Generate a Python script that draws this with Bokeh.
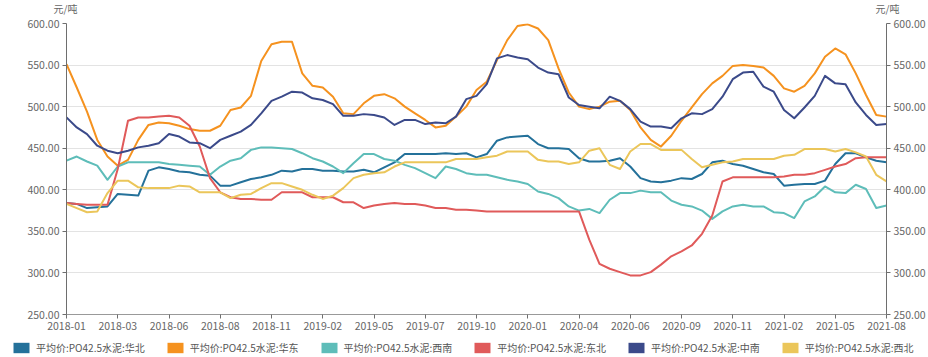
from bokeh.plotting import figure
from bokeh.layouts import column, row
from bokeh.models import (Range1d, LinearAxis, FixedTicker, PrintfTickFormatter,
                          Legend, LegendItem)
from bokeh.embed import file_html
from bokeh.resources import INLINE

# ---- data (5 samples per x-axis tick interval) ----
tick_labels = ["2018-01", "2018-03", "2018-06", "2018-08", "2018-11", "2019-02",
               "2019-05", "2019-07", "2019-10", "2020-01", "2020-04", "2020-06",
               "2020-09", "2020-11", "2021-02", "2021-05", "2021-08"]

series_names = ["平均价:PO42.5水泥:华北", "平均价:PO42.5水泥:华东", "平均价:PO42.5水泥:西南",
                "平均价:PO42.5水泥:东北", "平均价:PO42.5水泥:中南", "平均价:PO42.5水泥:西北"]

unit_label = "元/吨"

huabei = [384, 383, 378, 379, 380, 395, 394, 393, 423, 427, 425, 422, 421, 418, 417, 405, 405, 409, 413, 415, 418,
          423, 422, 425, 425, 423, 423, 422, 422, 424, 421, 427, 433, 443, 443, 443, 443, 444, 443, 444, 439,
          443, 459, 463, 464, 465, 455, 450, 450, 449, 438, 434, 434, 435, 438, 428, 414, 410, 409, 411, 414,
          413, 419, 433, 435, 431, 429, 425, 421, 419, 405, 406, 407, 407, 411, 431, 444, 444, 439, 435, 433]

huadong = [551, 523, 494, 460, 440, 429, 436, 460, 478, 481, 480, 477, 473, 471, 471, 477, 496, 499, 513, 555, 575,
           578, 578, 540, 525, 523, 512, 492, 491, 504, 513, 515, 510, 500, 492, 484, 475, 477, 488, 500, 520,
           530, 556, 580, 597, 599, 594, 580, 546, 517, 500, 497, 500, 506, 507, 496, 475, 460, 452, 465, 483,
           499, 515, 528, 537, 549, 550, 549, 547, 537, 522, 518, 525, 540, 560, 570, 563, 540, 514, 490, 488]

xinan = [435, 440, 434, 429, 412, 428, 433, 433, 433, 433, 431, 430, 429, 428, 418, 428, 435, 438, 448, 451, 451,
         450, 449, 444, 438, 434, 428, 420, 432, 443, 443, 437, 435, 430, 426, 420, 414, 428, 425, 420, 418,
         418, 415, 412, 410, 407, 398, 395, 390, 380, 375, 377, 372, 388, 396, 396, 399, 397, 397, 387, 382,
         380, 375, 365, 374, 380, 382, 380, 380, 373, 372, 366, 386, 392, 404, 397, 396, 406, 401, 378, 381]

dongbei = [384, 383, 382, 382, 382, 425, 483, 487, 487, 488, 489, 487, 477, 452, 414, 397, 391, 389, 389, 388, 388,
           397, 397, 397, 391, 391, 391, 385, 385, 378, 381, 383, 384, 383, 383, 381, 378, 378, 376, 376, 375,
           374, 374, 374, 374, 374, 374, 374, 374, 374, 374, 340, 311, 305, 301, 297, 297, 301, 310, 320, 326,
           333, 347, 369, 410, 415, 415, 415, 415, 415, 416, 418, 418, 420, 424, 428, 431, 438, 439, 439, 439]

zhongnan = [487, 475, 467, 453, 447, 444, 447, 451, 453, 456, 467, 464, 457, 456, 450, 460, 465, 470, 478, 492, 507,
            512, 518, 517, 510, 508, 503, 489, 489, 491, 490, 487, 478, 484, 484, 479, 481, 480, 488, 509, 513,
            527, 558, 562, 559, 557, 547, 541, 539, 511, 502, 500, 498, 512, 507, 497, 482, 476, 476, 474, 486,
            492, 491, 497, 512, 533, 541, 542, 524, 518, 496, 486, 499, 513, 537, 528, 527, 505, 490, 478, 479]

xibei = [383, 378, 373, 374, 396, 411, 411, 403, 402, 402, 402, 405, 404, 397, 397, 397, 390, 394, 395, 402, 408,
         408, 404, 400, 394, 389, 393, 402, 414, 418, 420, 421, 428, 433, 433, 433, 433, 433, 437, 437, 437,
         439, 441, 446, 446, 446, 436, 434, 434, 431, 433, 447, 450, 430, 425, 446, 455, 455, 448, 448, 448,
         437, 427, 430, 433, 434, 437, 437, 437, 437, 441, 442, 449, 449, 449, 446, 449, 445, 440, 418, 410]

colors = ["#24719a", "#f5921f", "#5ebdb9", "#e05a5a", "#3b4a8a", "#ebc65a"]
all_series = [huabei, huadong, xinan, dongbei, zhongnan, xibei]

y_ticks = [250, 300, 350, 400, 450, 500, 550, 600]

FONT = "Noto Sans CJK SC"
W = 928
n = len(huabei)
xs = list(range(n))
tick_pos = list(range(0, n, 5))

# ---- top strip: unit labels shown as single tick labels of hidden axes ----
top = figure(width=W, height=16, x_range=Range1d(0, 1), y_range=Range1d(0, 2),
             min_border=0, output_backend="svg", toolbar_location=None,
             x_axis_location=None, y_axis_location="left")
top.outline_line_color = None
top.xgrid.visible = False
top.ygrid.visible = False


def style_unit_axis(ax):
    ax.ticker = FixedTicker(ticks=[1])
    ax.major_label_overrides = {1: unit_label}
    ax.axis_line_color = None
    ax.major_tick_line_color = None
    ax.minor_tick_line_color = None
    ax.major_tick_out = 0
    ax.major_tick_in = 0
    ax.major_label_standoff = -11
    ax.major_label_text_font = FONT
    ax.major_label_text_font_size = "10px"
    ax.major_label_text_color = "#666666"


style_unit_axis(top.yaxis[0])
unit_right = LinearAxis()
style_unit_axis(unit_right)
top.add_layout(unit_right, "right")

# ---- main chart ----
p = figure(frame_width=820, frame_height=291,
           min_border_left=66, min_border_right=42, min_border_top=7, min_border_bottom=24,
           x_range=Range1d(0, n - 1), y_range=Range1d(250, 600),
           output_backend="svg", toolbar_location=None)
p.outline_line_color = None


def style_axis(ax):
    ax.axis_line_color = "#6e6e6e"
    ax.major_tick_line_color = "#6e6e6e"
    ax.major_tick_in = 0
    ax.major_tick_out = 4
    ax.minor_tick_line_color = None
    ax.major_label_text_font = FONT
    ax.major_label_text_font_size = "10.5px"
    ax.major_label_text_color = "#666666"
    ax.major_label_standoff = 3


xaxis = p.xaxis[0]
xaxis.ticker = FixedTicker(ticks=tick_pos)
xaxis.major_label_overrides = {pos: lab for pos, lab in zip(tick_pos, tick_labels)}
style_axis(xaxis)
xaxis.axis_line_color = "#999999"

yaxis = p.yaxis[0]
yaxis.ticker = FixedTicker(ticks=y_ticks)
yaxis.formatter = PrintfTickFormatter(format="%.2f")
style_axis(yaxis)

raxis = LinearAxis(ticker=FixedTicker(ticks=y_ticks), formatter=PrintfTickFormatter(format="%.2f"))
style_axis(raxis)
p.add_layout(raxis, "right")

p.xgrid.visible = False
p.ygrid.ticker = FixedTicker(ticks=y_ticks)
p.ygrid.grid_line_color = "#e3e3e3"

for col, vals in zip(colors, all_series):
    p.line(xs, vals, line_color=col, line_width=2, line_join="round")

# ---- legend strip (own frame spanning the full width) ----
bot = figure(width=W, height=19, x_range=Range1d(0, n - 1), y_range=Range1d(250, 600),
             min_border=0, output_backend="svg", toolbar_location=None,
             x_axis_location=None, y_axis_location=None)
bot.outline_line_color = None
bot.xgrid.visible = False
bot.ygrid.visible = False
items = []
for name, col, vals in zip(series_names, colors, all_series):
    # zero-size rects: nothing visible in the strip, a filled box swatch in the legend
    sw = bot.rect(x=xs, y=vals, width=0, height=0, fill_color=col, line_color=None)
    items.append(LegendItem(label=name, renderers=[sw]))
legend = Legend(items=items, orientation="horizontal", location=(11, 2),
                glyph_width=20, glyph_height=13, label_standoff=5, spacing=20,
                padding=0, margin=0, label_width=100, label_height=13,
                label_text_font=FONT, label_text_font_size="10px",
                label_text_color="#555555",
                border_line_color=None, background_fill_alpha=0)
bot.add_layout(legend, "center")

layout = column(top, p, row(bot), spacing=0)
open("out.html", "w").write(file_html(layout, INLINE))
